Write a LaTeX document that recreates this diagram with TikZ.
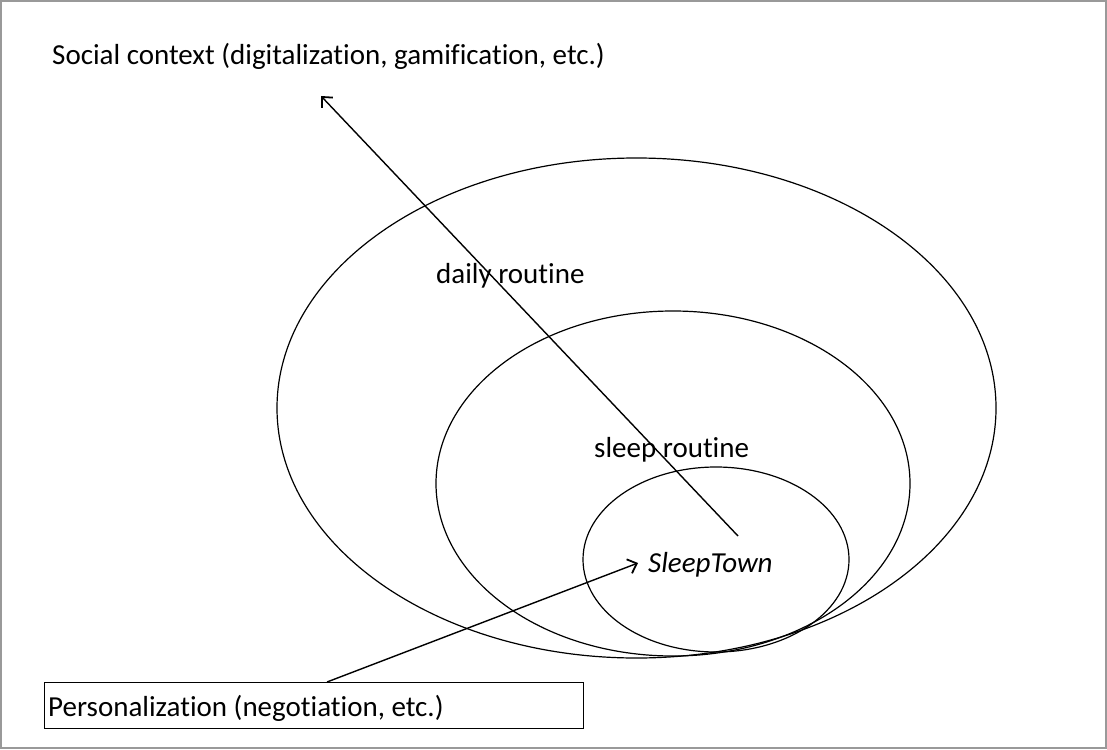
\documentclass[tikz,border=0pt]{standalone}
\usepackage{fontspec}
\setmainfont{Carlito}[Ligatures=NoCommon]
\usetikzlibrary{arrows.meta}
\begin{document}
\begin{tikzpicture}[x=1pt,y=-1pt,
  lbl/.style={font=\fontsize{29}{34}\selectfont, inner sep=0pt, anchor=base west},
  ring/.style={draw=black, line width=1.2pt},
  conn/.style={draw=black, line width=1.4pt, -{Straight Barb[length=8pt,width=15pt,line width=1.8pt]}}]
\useasboundingbox (0,0) rectangle (1107,749);
\draw[gray!80, line width=2.2pt] (1,1) rectangle (1106,748);
% ellipses
\draw[ring] (636.5,408) ellipse [x radius=359.5, y radius=250];
\draw[ring] (673,483.5) ellipse [x radius=237, y radius=172.5];
\draw[ring] (716,559.5) ellipse [x radius=133, y radius=92.5];
% labels
\node[lbl] (social) at (52,65) {Social context (digitalization, gamification, etc.)};
\node[lbl] (daily) at (436,283.5) {daily routine};
\node[lbl] (sleep) at (594,457.5) {sleep routine};
\node[lbl, font=\fontsize{29}{34}\selectfont\itshape] (town) at (648,572) {SleepTown};
\node[draw=black, line width=1.1pt, minimum width=539pt, minimum height=46pt, anchor=north west, inner sep=0pt] (box) at (44,682) {};
\node[lbl] (pers) at (48,716.5) {Personalization (negotiation, etc.)};
% connectors
\coordinate (a1s) at (738,536);
\coordinate (a1e) at (321,96);
\coordinate (a2s) at (327,682);
\coordinate (a2e) at (638,563);
\draw[conn] (a1s) -- (a1e);
\draw[conn] (a2s) -- (a2e);
\end{tikzpicture}
\end{document}
